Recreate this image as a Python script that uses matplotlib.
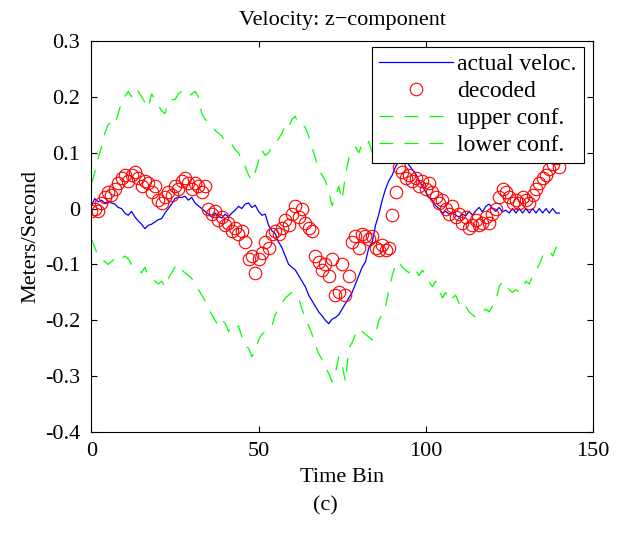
import matplotlib
matplotlib.use('Agg')
import matplotlib.pyplot as plt
import numpy as np

plt.rcParams['font.family'] = ['Liberation Serif', 'DejaVu Serif']
plt.rcParams['axes.unicode_minus'] = False
plt.rcParams['lines.scale_dashes'] = False

# time bins 0..140
actual = [0.005, 0.018, 0.012, 0.015, 0.010, 0.012, 0.010, 0.008, 0.002, 0.000,
          -0.008, -0.012, -0.005, -0.015, -0.022, -0.028, -0.036, -0.030, -0.028, -0.024,
          -0.020, -0.018, -0.008, 0.000, 0.008, 0.018, 0.020, 0.020, 0.022, 0.015,
          0.020, 0.010, 0.005, 0.000, -0.005, -0.010, -0.015, -0.008, -0.014, -0.017,
          -0.010, -0.015, -0.008, -0.003, 0.004, 0.000, 0.008, 0.010, 0.002, 0.006,
          -0.005, -0.012, -0.010, -0.030, -0.040, -0.045, -0.060, -0.070, -0.085, -0.100,
          -0.105, -0.110, -0.120, -0.130, -0.140, -0.155, -0.165, -0.175, -0.185, -0.192,
          -0.200, -0.206, -0.198, -0.195, -0.190, -0.180, -0.170, -0.160, -0.150, -0.135,
          -0.120, -0.105, -0.095, -0.070, -0.060, -0.030, -0.010, 0.015, 0.035, 0.050,
          0.060, 0.075, 0.085, 0.080, 0.088, 0.078, 0.070, 0.062, 0.050, 0.040,
          0.030, 0.020, 0.015, 0.005, 0.000, -0.008, -0.005, -0.010, -0.008, -0.012,
          -0.015, -0.010, -0.013, -0.005, -0.012, -0.004, 0.002, -0.006, 0.004, 0.008,
          0.000, -0.005, 0.002, -0.006, -0.003, -0.008, 0.000, -0.008, 0.000, -0.008,
          0.000, -0.008, 0.000, -0.008, 0.000, -0.008, 0.000, -0.008, 0.000, -0.008,
          -0.008]

decoded = [-0.005, 0.000, -0.005, 0.010, 0.020, 0.030, 0.025, 0.035, 0.045, 0.055,
           0.060, 0.050, 0.060, 0.065, 0.055, 0.040, 0.050, 0.045, 0.030, 0.040,
           0.015, 0.010, 0.020, 0.030, 0.025, 0.040, 0.035, 0.050, 0.055, 0.045,
           0.035, 0.045, 0.040, 0.030, 0.040, 0.000, -0.010, -0.005, -0.020, -0.015,
           -0.030, -0.025, -0.040, -0.035, -0.045, -0.040, -0.060, -0.090, -0.085, -0.115,
           -0.090, -0.080, -0.060, -0.070, -0.045, -0.040, -0.045, -0.035, -0.020, -0.030,
           -0.010, 0.005, -0.015, 0.000, -0.025, -0.035, -0.040, -0.085, -0.095, -0.110,
           -0.100, -0.120, -0.090, -0.155, -0.150, -0.100, -0.155, -0.120, -0.060, -0.050,
           -0.070, -0.045, -0.050, -0.055, -0.050, -0.070, -0.075, -0.065, -0.075, -0.070,
           -0.012, 0.030, 0.075, 0.065, 0.055, 0.060, 0.050, 0.055, 0.040, 0.050,
           0.035, 0.045, 0.030, 0.020, 0.010, 0.015, 0.000, -0.010, 0.005, -0.015,
           -0.010, -0.025, -0.015, -0.035, -0.030, -0.020, -0.030, -0.025, -0.015, -0.025,
           -0.010, 0.000, 0.020, 0.035, 0.030, 0.020, 0.010, 0.015, 0.010, 0.020,
           0.015, 0.010, 0.025, 0.035, 0.045, 0.055, 0.060, 0.070, 0.080, 0.090,
           0.075]

upper = [0.045, 0.065, 0.090, 0.110, 0.135, 0.150, 0.155, 0.150, 0.170, 0.190,
         0.200, 0.210, 0.200, 0.215, 0.210, 0.200, 0.190, 0.180, 0.205, 0.195,
         0.185, 0.175, 0.170, 0.190, 0.195, 0.195, 0.205, 0.210, 0.205, 0.200,
         0.205, 0.210, 0.200, 0.170, 0.160, 0.155, 0.150, 0.140, 0.135, 0.130,
         0.120, 0.120, 0.115, 0.105, 0.100, 0.085, 0.075, 0.060, 0.050, 0.065,
         0.085, 0.105, 0.095, 0.100, 0.110, 0.115, 0.125, 0.135, 0.150, 0.145,
         0.160, 0.165, 0.150, 0.150, 0.145, 0.130, 0.110, 0.090, 0.070, 0.060,
         0.050, 0.030, 0.005, 0.020, 0.040, 0.015, 0.060, 0.090, 0.100, 0.110,
         0.100, 0.115, 0.110, 0.120, 0.100, 0.090, 0.085, 0.090, 0.085, 0.090,
         0.140, 0.185, 0.230, 0.220, 0.210, 0.215, 0.205, 0.210, 0.195, 0.205,
         0.190, 0.200, 0.185, 0.175, 0.165, 0.170, 0.155, 0.145, 0.160, 0.140,
         0.145, 0.130, 0.140, 0.120, 0.125, 0.135, 0.125, 0.130, 0.140, 0.130,
         0.145, 0.155, 0.175, 0.190, 0.185, 0.175, 0.165, 0.170, 0.165, 0.175,
         0.170, 0.165, 0.180, 0.190, 0.200, 0.210, 0.215, 0.225, 0.235, 0.245,
         0.230]

lower = [-0.055, -0.070, -0.085, -0.090, -0.095, -0.100, -0.095, -0.090, -0.085, -0.090,
         -0.085, -0.090, -0.100, -0.105, -0.110, -0.115, -0.105, -0.120, -0.125, -0.130,
         -0.135, -0.130, -0.140, -0.125, -0.115, -0.105, -0.100, -0.110, -0.115, -0.120,
         -0.125, -0.135, -0.145, -0.155, -0.165, -0.180, -0.190, -0.200, -0.210, -0.200,
         -0.205, -0.220, -0.210, -0.215, -0.210, -0.230, -0.245, -0.250, -0.265, -0.255,
         -0.235, -0.225, -0.220, -0.215, -0.210, -0.190, -0.180, -0.170, -0.160, -0.155,
         -0.150, -0.155, -0.160, -0.180, -0.195, -0.210, -0.225, -0.245, -0.260, -0.270,
         -0.285, -0.295, -0.310, -0.295, -0.265, -0.280, -0.310, -0.250, -0.240, -0.225,
         -0.230, -0.220, -0.225, -0.230, -0.235, -0.225, -0.200, -0.190, -0.175, -0.145,
         -0.120, -0.100, -0.095, -0.105, -0.110, -0.115, -0.105, -0.110, -0.120, -0.110,
         -0.120, -0.130, -0.140, -0.130, -0.145, -0.160, -0.150, -0.165, -0.160, -0.155,
         -0.170, -0.180, -0.175, -0.185, -0.190, -0.195, -0.190, -0.185, -0.180, -0.185,
         -0.175, -0.165, -0.140, -0.130, -0.135, -0.145, -0.150, -0.145, -0.150, -0.140,
         -0.130, -0.135, -0.120, -0.110, -0.100, -0.085, -0.080, -0.075, -0.085, -0.070,
         -0.065]

t = np.arange(len(actual))

fs = 16
fig = plt.figure(figsize=(6.22, 5.39), dpi=100)
ax = fig.add_axes([0.147, 0.1985, 0.806, 0.7255])

ax.plot(t, actual, '-', color='#0000ff', lw=0.9, label='actual veloc.')
ax.plot(t, decoded, 'o', mfc='none', mec='#ff0000', ms=9, mew=0.8, label='decoded')
ax.plot(t, upper, color='#00ff00', lw=0.9, dashes=(10, 8), label='upper conf.')
ax.plot(t, lower, color='#00ff00', lw=0.9, dashes=(10, 8), label='lower conf.')

ax.set_xlim(0, 150)
ax.set_ylim(-0.4, 0.3)
ax.set_xticks([0, 50, 100, 150])
yt = np.round(np.arange(-0.4, 0.31, 0.1), 1)
ax.set_yticks(yt)
ax.set_yticklabels(['0' if v == 0 else '%g' % v for v in yt])
ax.tick_params(direction='in', top=True, right=True, length=4, labelsize=fs,
               width=0.8)
ax.tick_params(axis='x', pad=7)
ax.tick_params(axis='y', pad=8)
for s in ax.spines.values():
    s.set_linewidth(0.8)

ax.set_title('Velocity: z\u2212component', fontsize=fs, pad=11.5)
ax.set_xlabel('Time Bin', fontsize=fs, labelpad=5)
ax.set_ylabel('Meters/Second', fontsize=fs, labelpad=3.5)
fig.text(0.523, 0.061, '(c)', fontsize=fs, ha='center', va='center')

leg = ax.legend(loc='upper right', bbox_to_anchor=(0.982, 0.985), fontsize=17,
                frameon=True, fancybox=False, framealpha=1, edgecolor='black',
                handlelength=3.1, labelspacing=0.23, borderpad=0.3,
                handletextpad=0.2, borderaxespad=0)
leg.get_frame().set_linewidth(0.8)

fig.savefig('out.png', dpi=100)
